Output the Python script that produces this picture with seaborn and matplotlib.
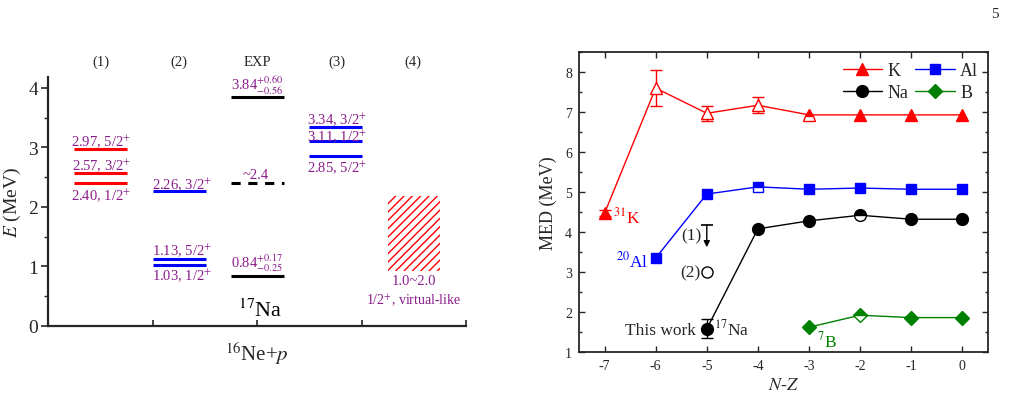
import numpy as np
import pandas as pd
import seaborn as sns
import matplotlib
matplotlib.use('Agg')
from matplotlib import pyplot as plt
from matplotlib.lines import Line2D
from matplotlib.patches import Rectangle
from matplotlib.ticker import MultipleLocator

# ---------------------------- left panel data ---------------------------- #
col_names = ['(1)', '(2)', 'EXP', '(3)', '(4)']
lvl1_E = [2.97, 2.57, 2.40]
lvl1_lab = ['2.97, 5/2$^{+}$', '2.57, 3/2$^{+}$', '2.40, 1/2$^{+}$']
lvl2_E = [2.26, 1.13, 1.03]
lvl2_lab = ['2.26, 3/2$^{+}$', '1.13, 5/2$^{+}$', '1.03, 1/2$^{+}$']
exp_E = [3.84, 0.84]
exp_lab = ['3.84$^{+0.60}_{-0.56}$', '0.84$^{+0.17}_{-0.25}$']
exp_tent_E = 2.4
lvl3_E = [3.34, 3.11, 2.85]
lvl3_lab = ['3.34, 3/2$^{+}$', '3.11, 1/2$^{+}$', '2.85, 5/2$^{+}$']
band4_E = [0.92, 2.18]

# ---------------------------- right panel data --------------------------- #
K_nz = [-7, -6, -5, -4, -3, -2, -1, 0]
K_med = [4.47, 7.60, 6.97, 7.17, 6.93, 6.93, 6.93, 6.93]
K_err = [0.08, 0.45, 0.19, 0.20, 0, 0, 0, 0]
K_fill = ['full', 'none', 'none', 'none', 'top', 'full', 'full', 'full']

Al_nz = [-6, -5, -4, -3, -2, -1, 0]
Al_med = [3.35, 4.95, 5.13, 5.07, 5.10, 5.07, 5.07]
Al_err = [0, 0, 0, 0, 0, 0, 0]
Al_fill = ['full', 'full', 'top', 'full', 'full', 'full', 'full']

Na_nz = [-5, -4, -3, -2, -1, 0]
Na_med = [1.58, 4.08, 4.28, 4.42, 4.32, 4.32]
Na_err = [0.24, 0, 0, 0, 0, 0]
Na_fill = ['full', 'full', 'full', 'top', 'full', 'full']

B_nz = [-3, -2, -1, 0]
B_med = [1.62, 1.92, 1.86, 1.86]
B_err = [0, 0, 0, 0]
B_fill = ['full', 'top', 'full', 'full']

na_upper = (-5, 4.18, 3.62)   # (1): upper limit arrow
na_other = (-5, 2.99)         # (2): open circle

purple = '#8B1C8B'

sns.set_theme(style='ticks')
plt.rcParams['font.family'] = ['Liberation Serif', 'DejaVu Serif']
plt.rcParams['mathtext.fontset'] = 'stix'
plt.rcParams['hatch.linewidth'] = 1.0
plt.rcParams['axes.unicode_minus'] = False

fig = plt.figure(figsize=(10.11, 4.02), dpi=100)
ax1 = fig.add_axes([0.0475, 0.1866, 0.4135, 0.619])
ax2 = fig.add_axes([0.5727, 0.1219, 0.4045, 0.746])

# ============================== LEFT PANEL ============================== #
ax1.set_xlim(0, 4)
ax1.set_ylim(0, 4.18)
sns.despine(ax=ax1)
for s in ['left', 'bottom']:
    ax1.spines[s].set_linewidth(1.6)

ax1.hlines(lvl1_E, 0.25, 0.76, color='red', lw=2.2)
ax1.hlines(lvl2_E, 1.0, 1.51, color='blue', lw=2.2)
ax1.hlines(exp_E, 1.75, 2.26, color='black', lw=2.2)
ax1.hlines([exp_tent_E], 1.75, 2.26, color='black', lw=2.2, linestyles=(0, (3, 2.5)))
ax1.hlines(lvl3_E, 2.5, 3.0, color='blue', lw=2.2)
ax1.add_patch(Rectangle((3.25, band4_E[0]), 0.5, band4_E[1] - band4_E[0],
                        fill=False, hatch='////', edgecolor='red', lw=0))

fs = 10.5
off1 = [0.15, 0.14, -0.19]
for e, lab, o in zip(lvl1_E, lvl1_lab, off1):
    ax1.text(0.51, e + o, lab, color=purple, fontsize=fs, ha='center', va='center')
off2 = [0.14, 0.15, -0.17]
for e, lab, o in zip(lvl2_E, lvl2_lab, off2):
    ax1.text(1.28, e + o, lab, color=purple, fontsize=fs, ha='center', va='center')
off_exp = [0.21, 0.24]
for e, lab, o in zip(exp_E, exp_lab, off_exp):
    ax1.text(2.0, e + o, lab, color=purple, fontsize=fs, ha='center', va='center')
ax1.text(1.99, exp_tent_E + 0.15, '~2.4', color=purple, fontsize=fs, ha='center', va='center')
off3 = [0.15, 0.09, -0.17]
for e, lab, o in zip(lvl3_E, lvl3_lab, off3):
    ax1.text(2.77, e + o, lab, color=purple, fontsize=fs, ha='center', va='center')
ax1.text(3.5, 0.76, '1.0~2.0', color=purple, fontsize=fs, ha='center', va='center')
ax1.text(3.5, 0.43, '1/2$^{+}$, virtual-like', color=purple, fontsize=10,
         ha='center', va='center')
ax1.text(2.03, 0.27, '$^{17}$Na', color='black', fontsize=16, ha='center', va='center')

for xc, name in zip([0.51, 1.25, 2.0, 2.76, 3.49], col_names):
    ax1.text(xc, 4.44, name, fontsize=10.5, ha='center', va='center', clip_on=False)

ax1.set_xticks([1, 2, 3, 4])
ax1.set_xticklabels([])
ax1.tick_params(axis='x', direction='in', length=4, width=1.2)
ax1.set_yticks([0, 1, 2, 3, 4])
ax1.yaxis.set_minor_locator(MultipleLocator(0.5))
ax1.tick_params(axis='y', which='major', direction='out', length=5, width=1.2,
                labelsize=14, pad=2)
ax1.tick_params(axis='y', which='minor', direction='out', length=3, width=1.0)
ax1.set_ylabel('$E$ (MeV)', fontsize=14, labelpad=4)
ax1.set_xlabel('$^{16}$Ne+$p$', fontsize=15, labelpad=6)

# ============================== RIGHT PANEL ============================= #
series = [
    ('K', K_nz, K_med, K_err, K_fill, 'red', '^', 8.5),
    ('Al', Al_nz, Al_med, Al_err, Al_fill, 'blue', 's', 7.5),
    ('Na', Na_nz, Na_med, Na_err, Na_fill, 'black', 'o', 8.5),
    ('B', B_nz, B_med, B_err, B_fill, 'green', 'D', 7.5),
]

df = pd.concat([pd.DataFrame({'series': name, 'nz': nz, 'med': med})
                for name, nz, med, *_ in series])
palette = {name: c for name, _, _, _, _, c, _, _ in series}
sns.lineplot(data=df, x='nz', y='med', hue='series', palette=palette,
             legend=False, errorbar=None, lw=1.0, ax=ax2, sort=True)

for name, nz, med, err, fill, c, m, ms in series:
    for x, y, e, f in zip(nz, med, err, fill):
        if e > 0:
            ax2.errorbar(x, y, yerr=e, fmt='none', ecolor=c, elinewidth=1.0,
                         capsize=4, capthick=1.0, zorder=3)
        if f == 'none':
            ax2.plot(x, y, marker=m, ms=ms, color=c, mfc='white', mew=1.0, zorder=4)
        elif f == 'top':
            ax2.plot(x, y, marker=m, ms=ms, color=c, mfc=c, fillstyle='top',
                     markerfacecoloralt='white', mew=1.0, zorder=4)
        else:
            ax2.plot(x, y, marker=m, ms=ms, color=c, mfc=c, mew=1.0, zorder=4)

# (1) upper limit and (2) alternative value for 17Na
ax2.annotate('', xy=(na_upper[0], na_upper[2]), xytext=(na_upper[0], na_upper[1]),
             arrowprops=dict(arrowstyle='-|>', color='black', lw=1.0,
                             mutation_scale=9, shrinkA=0, shrinkB=0))
ax2.plot(na_upper[0], na_upper[1], marker='_', ms=8, mew=1.2, color='black')
ax2.plot(na_other[0], na_other[1], marker='o', ms=8, mfc='white', color='black', mew=1.0)

tfs = 12.5
ax2.text(-5.3, 3.92, '(1)', fontsize=tfs, ha='center', va='center')
ax2.text(-5.13, 2.98, '(2)', fontsize=tfs, ha='right', va='center')
ax2.text(-5.22, 1.55, 'This work', fontsize=tfs, ha='right', va='center')
ax2.text(-4.86, 1.58, '$^{17}$Na', fontsize=tfs, ha='left', va='center')
ax2.text(-6.83, 4.39, '$^{31}$K', fontsize=tfs, color='red', ha='left', va='center')
ax2.text(-6.15, 3.29, '$^{20}$Al', fontsize=tfs, color='blue', ha='right', va='center')
ax2.text(-2.84, 1.28, '$^{7}$B', fontsize=tfs, color='green', ha='left', va='center')

ax2.set_xlim(-7.5, 0.5)
ax2.set_ylim(1, 8.5)
ax2.set_xticks(range(-7, 1))
ax2.set_yticks(range(1, 9))
ax2.yaxis.set_minor_locator(MultipleLocator(0.5))
ax2.tick_params(which='both', direction='in', top=True, right=True, width=1.0)
ax2.tick_params(which='major', length=4, labelsize=10, pad=5)
ax2.tick_params(which='minor', length=2.5)
for s in ax2.spines.values():
    s.set_linewidth(1.3)
ax2.set_xlabel('$N$-$Z$', fontsize=13, labelpad=3)
ax2.set_ylabel('MED (MeV)', fontsize=13, labelpad=6)

handles = [Line2D([], [], color=c, marker=m, ms=ms, mfc=c, lw=1.0)
           for name, _, _, _, _, c, m, ms in series]
labels = [name for name, *_ in series]
# order so rows read K, Al / Na, B
ax2.legend([handles[0], handles[2], handles[1], handles[3]],
           [labels[0], labels[2], labels[1], labels[3]],
           ncol=2, loc='upper right', frameon=False, fontsize=13,
           handlelength=2.2, handletextpad=0.3, columnspacing=0.35,
           borderaxespad=0.55, borderpad=0.0, labelspacing=0.28)

fig.text(0.984, 0.963, '5', fontsize=11, ha='center', va='center')

fig.savefig('out.png', dpi=100)
